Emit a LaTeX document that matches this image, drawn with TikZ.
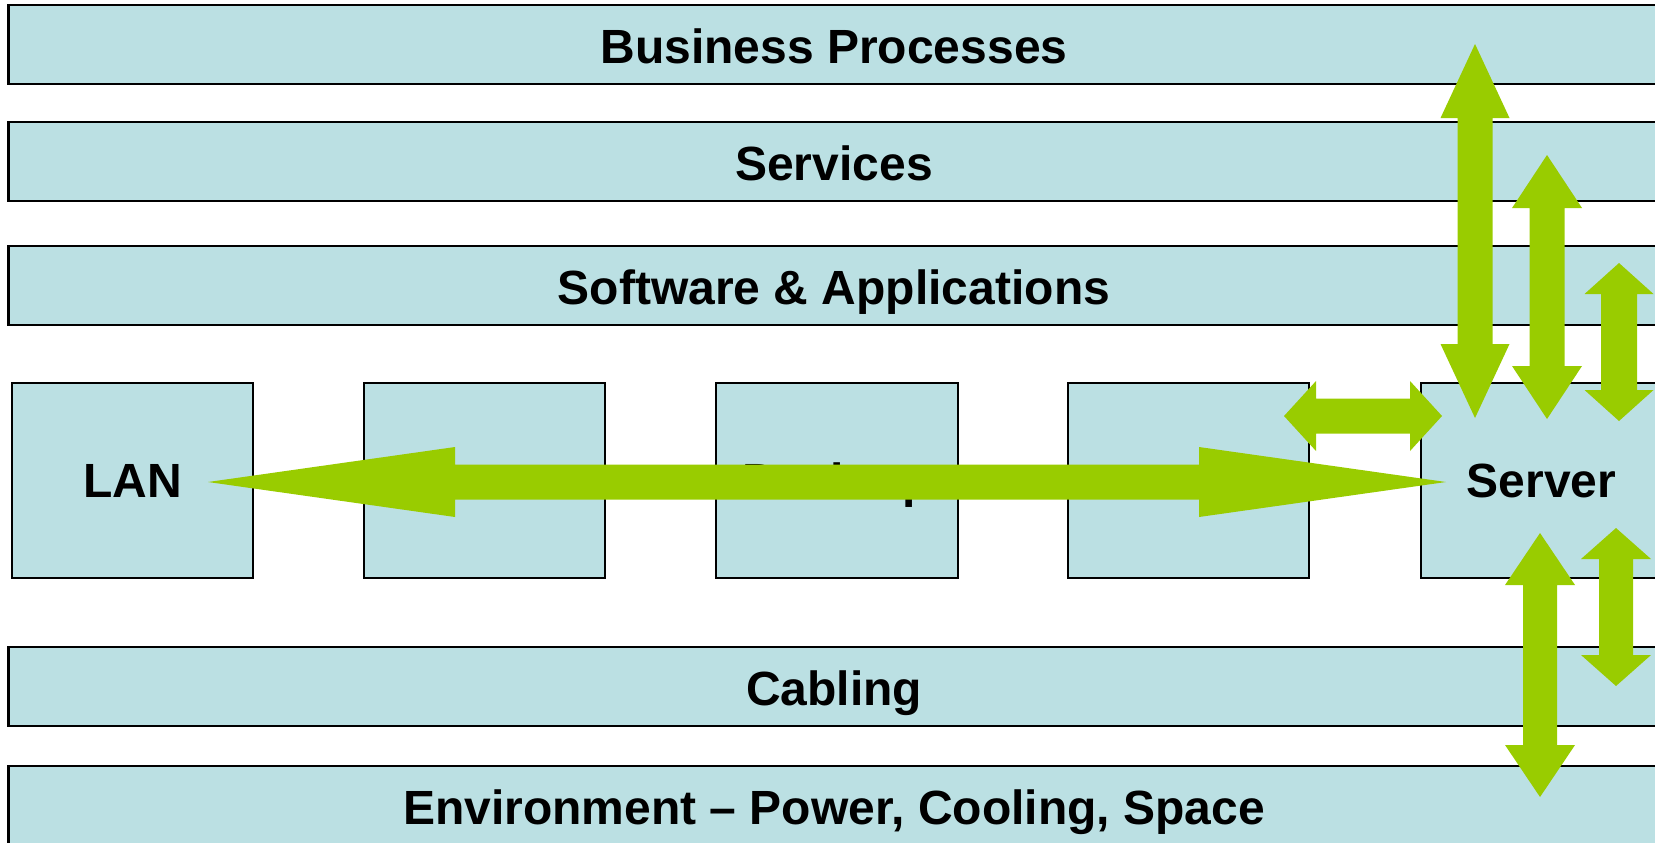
\documentclass[tikz,border=0pt]{standalone}
\usepackage{fontspec}
\setmainfont{Liberation Sans}
\usetikzlibrary{calc}

\definecolor{layerblue}{HTML}{BBE0E3}
\definecolor{linkgreen}{HTML}{99CC00}

% block double arrows: tip, tip, head length, head half width, shaft half width
\newcommand{\vlink}[5]{\fill[linkgreen] (#1) -- ++(#4,#3) -- ++(-#4+#5,0) -- ($(#2)+(#5,-#3)$) -- ++(#4-#5,0) -- (#2) -- ++(-#4,-#3) -- ++(#4-#5,0) -- ($(#1)+(-#5,#3)$) -- ++(-#4+#5,0) -- cycle;}
\newcommand{\hlink}[5]{\fill[linkgreen] (#1) -- ++(#3,-#4) -- ++(0,#4-#5) -- ($(#2)+(-#3,-#5)$) -- ++(0,-#4+#5) -- (#2) -- ++(-#3,#4) -- ++(0,-#4+#5) -- ($(#1)+(#3,#5)$) -- ++(0,#4-#5) -- cycle;}

\begin{document}
\begin{tikzpicture}[x=0.01cm,y=-0.01cm,
    label/.style={font=\bfseries\fontsize{13.65}{16}\selectfont,text height=0.375cm,text depth=0pt,inner sep=0pt},
    layer/.style={label,draw,line width=0.6pt,fill=layerblue,minimum width=16.5cm,minimum height=0.79cm},
    unit/.style={label,text height=0.335cm,draw,line width=0.6pt,fill=layerblue,minimum width=2.41cm,minimum height=1.95cm}]
    \useasboundingbox (0,0) rectangle (1655,842);

    % layers
    \node[layer] (business) at (834,44.5) {Business Processes};
    \node[layer] (services) at (834,161.5) {Services};
    \node[layer] (software) at (834,285.5) {Software \& Applications};
    \node[layer] (cabling) at (834,686.5) {Cabling};
    \node[layer] (environment) at (834,805.5) {Environment – Power, Cooling, Space};

    % row of units
    \node[unit] (lan) at (132.5,480.5) {LAN};
    \node[unit] (storage) at (484.5,480.5) {};
    \node[unit] (desktop) at (837,480.5) {Desktop};
    \node[unit] (wan) at (1188.5,480.5) {};
    \node[unit] (server) at (1541.5,480.5) {Server};

    % arrow ends
    \coordinate (lanTip) at (208,482);
    \coordinate (srvTip) at (1446,482);
    \coordinate (wanTip) at (1284,416);
    \coordinate (srvLeft) at (1442,416);
    \coordinate (bpTip) at (1475,44);
    \coordinate (bpEnd) at (1475,418);
    \coordinate (svTip) at (1547,155);
    \coordinate (svEnd) at (1547,419);
    \coordinate (swTip) at (1619,263);
    \coordinate (swEnd) at (1619,421);
    \coordinate (envTop) at (1540,533);
    \coordinate (envTip) at (1540,797);
    \coordinate (cabTop) at (1616,528);
    \coordinate (cabTip) at (1616,686);

    \hlink{lanTip}{srvTip}{247}{35}{17.5}
    \hlink{wanTip}{srvLeft}{32}{35}{17.5}
    \vlink{bpTip}{bpEnd}{74}{34.5}{17.5}
    \vlink{svTip}{svEnd}{53}{35}{17.5}
    \vlink{swTip}{swEnd}{31}{34.5}{18}
    \vlink{envTop}{envTip}{52}{35}{17}
    \vlink{cabTop}{cabTip}{31}{35}{17}
\end{tikzpicture}
\end{document}
